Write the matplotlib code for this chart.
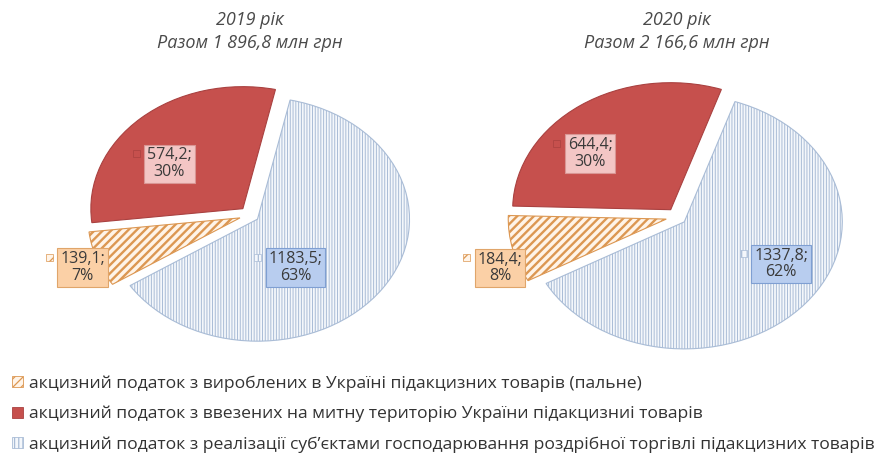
import numpy as np
import matplotlib.pyplot as plt
from matplotlib.patches import Patch

plt.rcParams['font.family'] = ['Open Sans', 'DejaVu Sans']
plt.rcParams['hatch.linewidth'] = 0.9

categories = ['акцизний податок з вироблених в Україні підакцизних товарів (пальне)',
              'акцизний податок з ввезених на митну територію України підакцизниі товарів',
              'акцизний податок з реалізації суб\u2019єктами господарювання роздрібної торгівлі підакцизних товарів']
years = ['2019 рік', '2020 рік']
totals = ['1 896,8', '2 166,6']
values_2019 = [139.1, 574.2, 1183.5]
values_2020 = [184.4, 644.4, 1337.8]
value_labels_2019 = ['139,1;', '574,2;', '1183,5;']
value_labels_2020 = ['184,4;', '644,4;', '1337,8;']
pct_2019 = ['7%', '30%', '63%']
pct_2020 = ['8%', '30%', '62%']

faces = ['#fff4e8', '#c6504d', '#f4f7fb']
edges = ['#dc9752', '#a94140', '#a9bcd6']
hatches = ['////', '', '||||||']
hatch_lw = [1.7, 0.8, 0.7]
box_faces = ['#fbd0a6', '#f3c6c5', '#b8cdef']
box_edges = ['#e0a56a', '#d99694', '#7f9fd2']

# label box centres (pie units) for each pie
label_pos = [
    [(-1.10, -0.43), (-0.53, 0.42), (0.30, -0.43)],
    [(-1.12, -0.40), (-0.55, 0.50), (0.66, -0.37)],
]

fig = plt.figure(figsize=(8.81, 4.70), dpi=100)

# pixel geometry of the two pies (centre x, centre y from top, px per unit)
centres = [(250, 215, 152, 122), (677, 217, 158, 127)]
W, H = 881, 470

label_texts = []
for i, vals in enumerate([values_2019, values_2020]):
    cx, cy, sx, sy = centres[i]
    aw, ah = 2.6 * sx, 2.6 * sy
    ax = fig.add_axes([(cx - aw / 2) / W, (H - cy - ah / 2) / H, aw / W, ah / H])
    wedges, _ = ax.pie(vals, startangle=-147 if i == 0 else -151, counterclock=False,
                       explode=[0.07, 0.07, 0.06], radius=1.0)
    for k, w in enumerate(wedges):
        w.set_facecolor(faces[k])
        w.set_edgecolor(edges[k])
        w.set_hatch(hatches[k])
        w.set_linewidth(0.8)
        if hasattr(w, 'set_hatch_linewidth'):
            w.set_hatch_linewidth(hatch_lw[k])
    ax.set_xlim(-1.3, 1.3)
    ax.set_ylim(-1.3, 1.3)
    ax.set_aspect('auto')
    ax.axis('off')

    vlabels = value_labels_2019 if i == 0 else value_labels_2020
    pcts = pct_2019 if i == 0 else pct_2020
    for k in range(3):
        x, y = label_pos[i][k]
        t = ax.text(x, y, f'{vlabels[k]}\n{pcts[k]}', ha='center', va='center', fontsize=11.5,
                    color='#3a3a3a', linespacing=1.05,
                    bbox=dict(boxstyle='square,pad=0.18', fc=box_faces[k], ec=box_edges[k], lw=0.8))
        label_texts.append((t, k))

    fig.text(cx / W, 1 - 20 / H, years[i], ha='center', va='center', fontsize=13,
             style='italic', color='#4a4a4a')
    fig.text(cx / W, 1 - 43 / H, f'Разом {totals[i]} млн грн', ha='center', va='center',
             fontsize=13, style='italic', color='#4a4a4a')

# small legend keys just left of each label box
fig.canvas.draw()
r = fig.canvas.get_renderer()
for t, k in label_texts:
    bb = t.get_bbox_patch().get_window_extent(r)
    kx = (bb.x0 - 8) / W
    ky = (bb.y1 - 9) / H
    fig.patches.append(plt.Rectangle((kx - 3.5 / W, ky - 3.5 / H), 7 / W, 7 / H,
                                     transform=fig.transFigure, fc=faces[k], ec=edges[k],
                                     hatch=hatches[k][:3] if hatches[k] else None, lw=0.5))

handles = [Patch(facecolor=faces[k], edgecolor=edges[k], hatch=hatches[k][:4], lw=0.6)
           for k in range(3)]
fig.legend(handles, categories, loc='upper left', bbox_to_anchor=(0.0, 1 - 363 / H),
           frameon=False, fontsize=12.6, labelcolor='#333333', handlelength=0.6,
           handleheight=0.6, handletextpad=0.35, labelspacing=0.8, borderaxespad=0.3)

fig.savefig('out.png', dpi=100)
